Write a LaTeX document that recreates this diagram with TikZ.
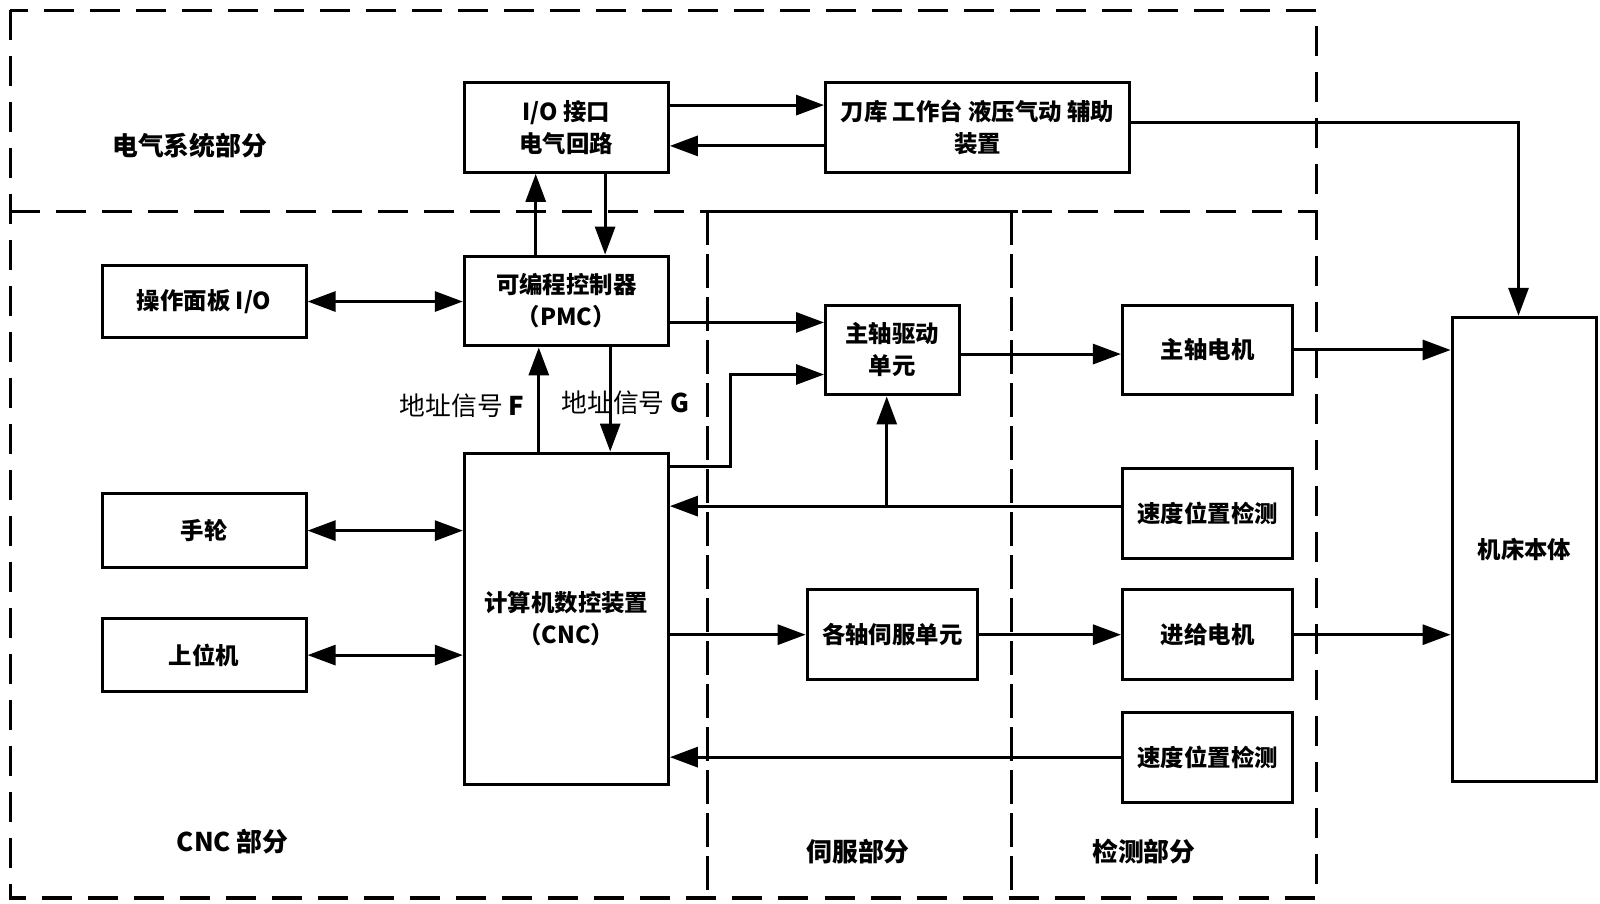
\documentclass[tikz,border=0pt]{standalone}
\usepackage{fontspec}
\setmainfont{Noto Sans CJK SC}
\usetikzlibrary{arrows.meta}
\tikzset{
  box/.style={draw, line width=1.5pt, align=center, inner sep=2pt, font=\bfseries\fontsize{11.7}{16}\selectfont},
  arr/.style={line width=1.5pt, -{Triangle[length=14pt,width=10pt]}},
  darr/.style={line width=1.5pt, {Triangle[length=14pt,width=10pt]}-{Triangle[length=14pt,width=10pt]}},
  region/.style={line width=1.6pt, dash pattern=on 15pt off 8pt},
  inner region/.style={line width=1.4pt, dash pattern=on 17pt off 4.5pt},
  part/.style={font=\bfseries\fontsize{12.9}{16}\selectfont},
  lbl/.style={font=\fontsize{12.9}{16}\selectfont}
}
\begin{document}
\begin{tikzpicture}[x=0.5102pt, y=-0.5102pt]
  \useasboundingbox (0,0) rectangle (1568,885);

  % dashed region frames
  \draw[region] (10,10) rectangle (1290,880);
  \draw[region] (10,207) -- (1290,207);
  \draw[line width=1.5pt] (693,207) -- (998,207);
  \draw[inner region] (693,207) -- (693,880);
  \draw[inner region] (991,207) -- (991,880);

  % blocks
  \node[box, minimum width=102pt, minimum height=44.9pt] (io) at (555,125) {I/O 接口\\电气回路};
  \node[box, minimum width=152pt, minimum height=44.9pt] (tool) at (958,125) {刀库 工作台 液压气动 辅助\\装置};
  \node[box, minimum width=102pt, minimum height=36.2pt] (panel) at (200,295.5) {操作面板 I/O};
  \node[box, minimum width=102pt, minimum height=44.9pt] (pmc) at (555,295) {可编程控制器\\（PMC）};
  \node[box, minimum width=66.8pt, minimum height=44.9pt] (sdrive) at (874.5,343) {主轴驱动\\单元};
  \node[box, minimum width=85.2pt, minimum height=44.9pt] (smotor) at (1183.5,343) {主轴电机};
  \node[box, minimum width=85.2pt, minimum height=44.9pt] (det1) at (1183.5,503) {速度位置检测};
  \node[box, minimum width=102pt, minimum height=36.7pt] (wheel) at (200,520) {手轮};
  \node[box, minimum width=102pt, minimum height=36.7pt] (host) at (200,642) {上位机};
  \node[box, minimum width=102pt, minimum height=165.8pt] (cnc) at (555,606.5) {计算机数控装置\\（CNC）};
  \node[box, minimum width=85.2pt, minimum height=44.9pt] (servo) at (874.5,622) {各轴伺服单元};
  \node[box, minimum width=85.2pt, minimum height=44.9pt] (fmotor) at (1183.5,622) {进给电机};
  \node[box, minimum width=85.2pt, minimum height=44.9pt] (det2) at (1183.5,742) {速度位置检测};
  \node[box, minimum width=72.4pt, minimum height=232.1pt] (body) at (1494,538.5) {机床本体};

  % electrical part
  \draw[arr] (io.east |- 0,103) -- (tool.west |- 0,103);
  \draw[arr] (tool.west |- 0,143) -- (io.east |- 0,143);
  \draw[arr] (pmc.north -| 525,0) -- (io.south -| 525,0);
  \draw[arr] (io.south -| 593,0) -- (pmc.north -| 593,0);
  \draw[arr] (tool.east |- 0,120) -| ([xshift=-3pt]body.north);

  % cnc part
  \draw[darr] (panel.east) -- (pmc.west |- panel.east);
  \draw[darr] (wheel.east) -- (cnc.west |- wheel.east);
  \draw[darr] (host.east) -- (cnc.west |- host.east);
  \draw[arr] (cnc.north -| 528,0) -- (pmc.south -| 528,0);
  \draw[arr] (pmc.south -| 598,0) -- (cnc.north -| 598,0);

  % spindle
  \coordinate (bend) at (716,367);
  \coordinate (tap) at (869,496);
  \draw[arr] (pmc.east |- 0,316) -- (sdrive.west |- 0,316);
  \draw[arr] (cnc.east |- 0,457) -| (bend) -- (sdrive.west |- bend);
  \draw[arr] (sdrive.east |- 0,347) -- (smotor.west |- 0,347);
  \draw[arr] (smotor.east |- 0,343) -- (body.west |- 0,343);
  \draw[arr] (det1.west |- tap) -- (cnc.east |- tap);
  \draw[arr] (tap) -- (tap |- sdrive.south);

  % feed axes
  \draw[arr] (cnc.east |- servo.west) -- (servo.west);
  \draw[arr] (servo.east) -- (fmotor.west);
  \draw[arr] (fmotor.east) -- (body.west |- fmotor.east);
  \draw[arr] (det2.west) -- (cnc.east |- det2.west);

  % labels
  \node[part] (elec) at (186,143) {电气系统部分};
  \node[part] (cncpart) at (228,825) {CNC 部分};
  \node[part] (servopart) at (841,835) {伺服部分};
  \node[part] (detpart) at (1121,835) {检测部分};
  \node[lbl] (sigF) at (453,398) {地址信号 \textbf{F}};
  \node[lbl] (sigG) at (613,395) {地址信号 \textbf{G}};
\end{tikzpicture}
\end{document}
